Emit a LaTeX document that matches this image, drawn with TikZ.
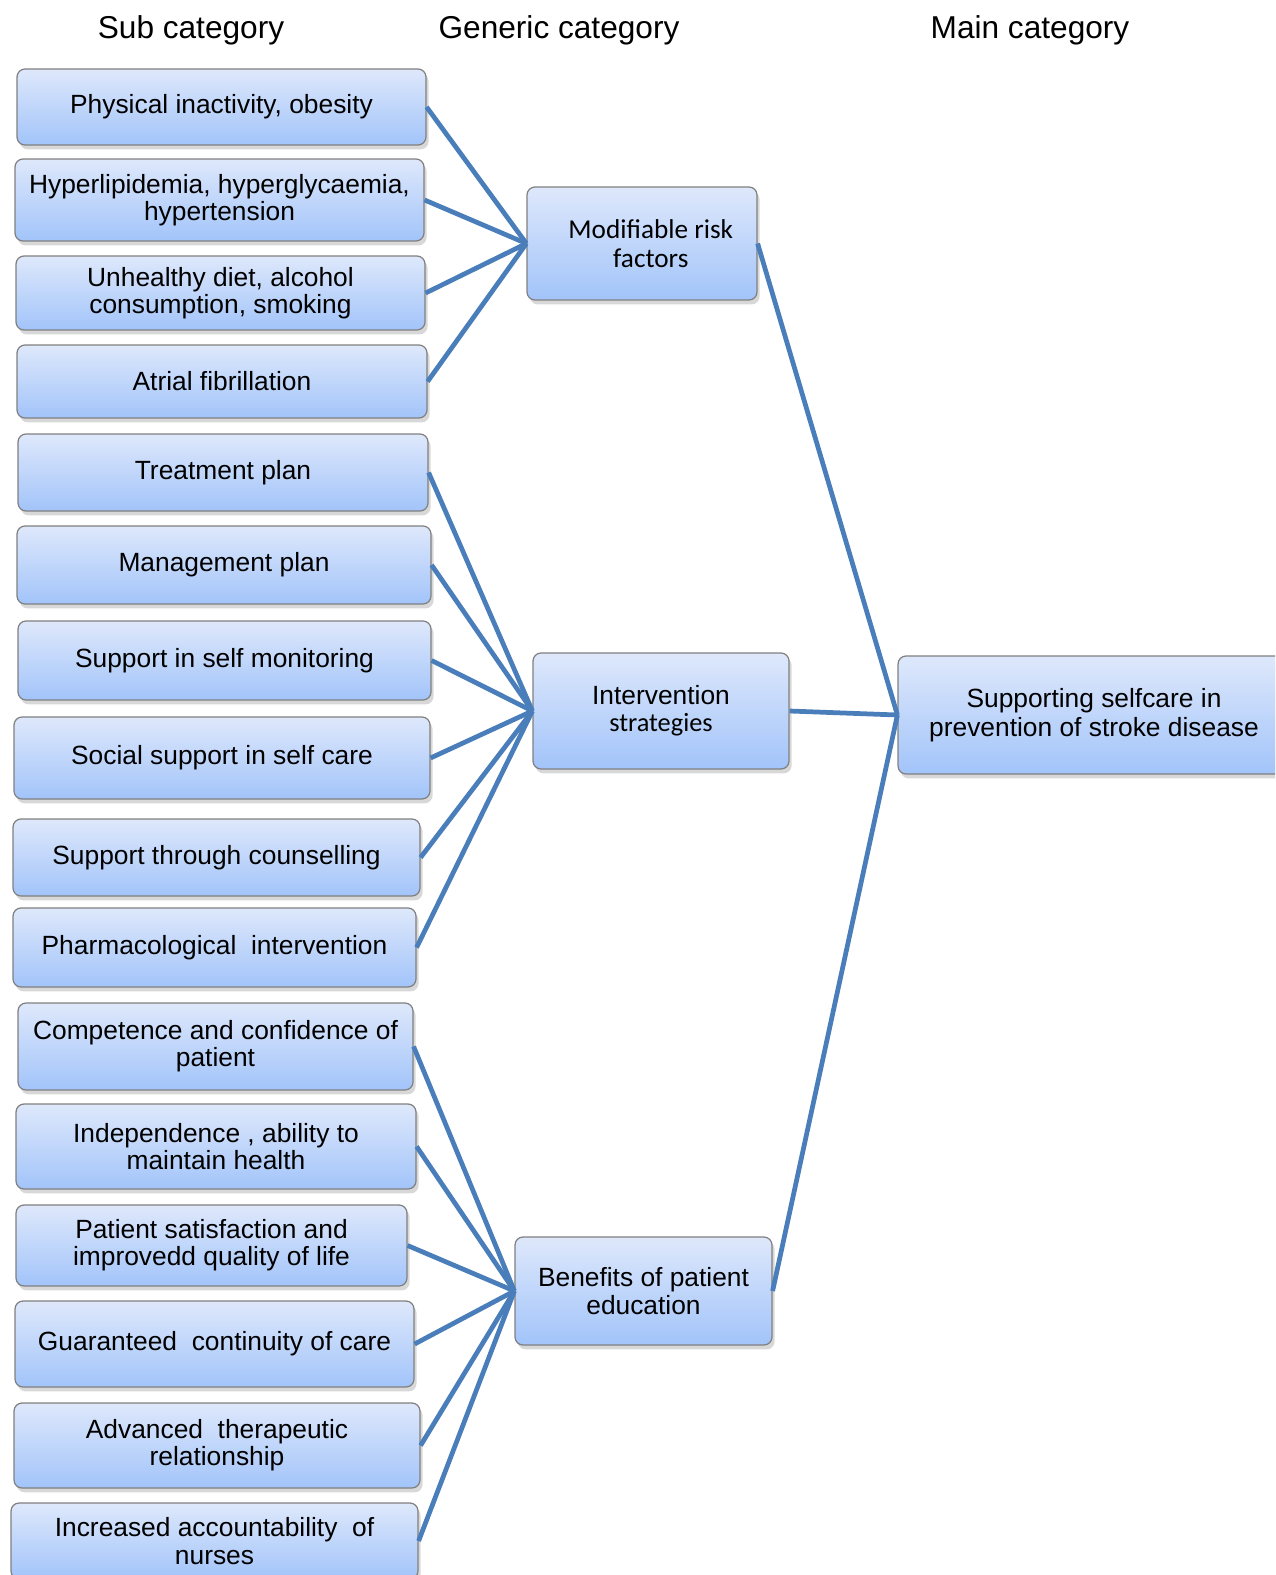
\documentclass[tikz,border=0pt]{standalone}
\usepackage{fontspec}
\setmainfont{Liberation Sans}
\newfontfamily\calibrifont{Carlito}
\usetikzlibrary{shadows}
\definecolor{linkblue}{RGB}{74,126,187}
\definecolor{boxtop}{RGB}{222,232,251}
\definecolor{boxbottom}{RGB}{162,196,250}
\definecolor{boxedge}{RGB}{128,128,128}

\begin{document}
\begin{tikzpicture}[x=0.02cm, y=-0.02cm,
    catbox/.style={draw=boxedge, line width=0.7pt, rounded corners=0.16cm,
      top color=boxtop, bottom color=boxbottom,
      drop shadow={shadow xshift=1.5pt, shadow yshift=-2.5pt, opacity=0.3},
      align=center, inner sep=0pt, font=\fontsize{15}{15.5}\selectfont},
    boxsize/.style 2 args={minimum width=#1*0.5691pt, minimum height=#2*0.5691pt},
    head/.style={font=\fontsize{18}{20}\selectfont},
    link/.style={draw=linkblue, line width=2.7pt}]
    \clip (0,0) rectangle (1275,1575);
    \fill[white] (0,0) rectangle (1275,1575);

    % column titles
    \node[head] (hsub) at (191,30) {Sub category};
    \node[head] (hgen) at (559,30) {Generic category};
    \node[head] (hmain) at (1030,30) {Main category};

    % sub categories
    \node[catbox, boxsize={409}{76}] (s1) at (221.5,107) {Physical inactivity, obesity};
    \node[catbox, boxsize={409}{82}] (s2) at (219.5,200) {Hyperlipidemia, hyperglycaemia,\\ hypertension};
    \node[catbox, boxsize={409}{74}] (s3) at (220.5,293) {Unhealthy diet, alcohol\\ consumption, smoking};
    \node[catbox, boxsize={410}{73}] (s4) at (222,381.5) {Atrial fibrillation};
    \node[catbox, boxsize={410}{77}] (s5) at (223,472.5) {Treatment plan};
    \node[catbox, boxsize={414}{78}] (s6) at (224,565) {Management plan};
    \node[catbox, boxsize={413}{79}] (s7) at (224.5,660.5) {Support in self monitoring};
    \node[catbox, boxsize={416}{82}] (s8) at (222,758) {Social support in self care};
    \node[catbox, boxsize={407}{77}] (s9) at (216.5,857.5) {Support through counselling};
    \node[catbox, boxsize={403}{79}] (s10) at (214.5,947.5) {Pharmacological\ \ intervention};
    \node[catbox, boxsize={395}{87}] (s11) at (215.5,1046.5) {Competence and confidence of\\ patient};
    \node[catbox, boxsize={400}{85}] (s12) at (216,1146.5) {Independence , ability to\\ maintain health};
    \node[catbox, boxsize={391}{81}] (s13) at (211.5,1245.5) {Patient satisfaction and\\ improvedd quality of life};
    \node[catbox, boxsize={399}{86}] (s14) at (214.5,1344) {Guaranteed\ \ continuity of care};
    \node[catbox, boxsize={406}{85}] (s15) at (217,1445.5) {Advanced\ \ therapeutic\\ relationship};
    \node[catbox, boxsize={407}{76}] (s16) at (214.5,1541) {Increased accountability\ \ of\\ nurses};

    % generic categories
    \node[catbox, boxsize={230}{113}, font=\calibrifont\fontsize{15.5}{16.5}\selectfont] (gm) at (642,243.5) {\hspace*{10pt}Modifiable risk\\ \hspace*{10pt}factors};
    \node[catbox, boxsize={256}{116}] (gi) at (661,711) {Intervention\\ {\calibrifont strategies}};
    \node[catbox, boxsize={257}{108}] (gb) at (643.5,1291) {Benefits of patient\\ education};

    % main category
    \node[catbox, boxsize={392}{118}, font=\fontsize{15}{16.5}\selectfont] (mc) at (1094,715) {Supporting selfcare in\\ prevention of stroke disease};

    % links
    \foreach \s in {1,...,4}
        \draw[link] (s\s.east) -- (gm.west);
    \foreach \s in {5,...,10}
        \draw[link] (s\s.east) -- (gi.west);
    \foreach \s in {11,...,16}
        \draw[link] (s\s.east) -- (gb.west);
    \foreach \g in {gm,gi,gb}
        \draw[link] (\g.east) -- (mc.west);
\end{tikzpicture}
\end{document}
